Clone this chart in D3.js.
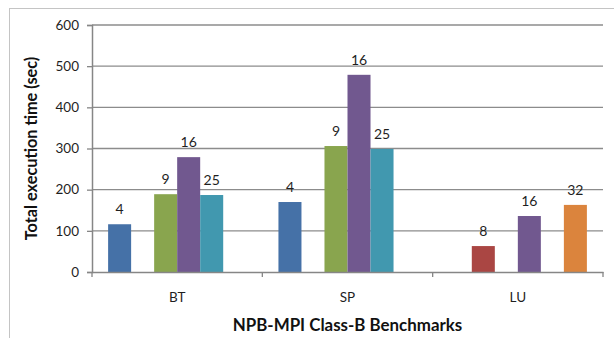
<!DOCTYPE html>
<html>
<head>
<meta charset="utf-8">
<script src="https://cdn.jsdelivr.net/npm/d3@7"></script>
<style>
  html, body { margin: 0; padding: 0; background: #fff; }
  svg { display: block; font-family: Lato, "Open Sans", sans-serif; }
</style>
</head>
<body>
<svg id="chart" width="614" height="338"></svg>
<script>
// Benchmarks and process counts
const categories = ["BT", "SP", "LU"];
const processCounts = ["4", "8", "9", "16", "25", "32"];
// Execution time (sec) per benchmark, one entry per process count (null = not run)
const timesBT = [116, null, 189, 279, 187, null];
const timesSP = [170, null, 306, 479, 299, null];
const timesLU = [null, 63, null, 136, null, 163];
const yTicks = [0, 100, 200, 300, 400, 500, 600];
const seriesColors = ["#4571A7", "#AA4643", "#89A54E", "#71588F", "#4198AF", "#DB843D"];

const rows = [timesBT, timesSP, timesLU];

const svg = d3.select("#chart");
const margin = { left: 92, right: 11, top: 25, bottom: 66 };
const W = 614, H = 338;

// outer frame
svg.append("rect")
  .attr("x", 9.5).attr("y", 8.5)
  .attr("width", 640).attr("height", 360)
  .attr("fill", "none").attr("stroke", "#c4c4c4").attr("stroke-width", 1);

const x0 = d3.scaleBand()
  .domain(categories)
  .range([margin.left, W - margin.right])
  .paddingInner(0).paddingOuter(0);

const x1 = d3.scaleBand()
  .domain(processCounts)
  .range([0, x0.bandwidth()])
  .paddingOuter(0.7).paddingInner(0);

const y = d3.scaleLinear()
  .domain([0, 600])
  .range([H - margin.bottom, margin.top]);

// gridlines
svg.append("g")
  .selectAll("line")
  .data(yTicks.filter(t => t > 0))
  .join("line")
  .attr("x1", margin.left).attr("x2", W - margin.right)
  .attr("y1", d => y(d)).attr("y2", d => y(d))
  .attr("stroke", "#8c8c8c").attr("stroke-width", 1.3);

// y axis
const yAxis = svg.append("g")
  .attr("transform", `translate(${margin.left},0)`)
  .call(d3.axisLeft(y).tickValues(yTicks).tickSize(5).tickPadding(8));
yAxis.select(".domain").attr("stroke", "#868686").attr("stroke-width", 1.5);
yAxis.selectAll(".tick line").attr("stroke", "#868686").attr("stroke-width", 1.3);
yAxis.selectAll(".tick text")
  .attr("font-size", 13.5).attr("fill", "#1f1f1f")
  .attr("font-family", "Lato, sans-serif");

// bars
const groups = svg.append("g")
  .selectAll("g")
  .data(rows.map((vals, i) => ({ cat: categories[i], vals })))
  .join("g")
  .attr("transform", d => `translate(${x0(d.cat)},0)`);

const cells = groups.selectAll("g")
  .data(d => d.vals.map((v, j) => ({ v, key: processCounts[j], color: seriesColors[j] })).filter(e => e.v !== null))
  .join("g");

cells.append("rect")
  .attr("x", d => x1(d.key))
  .attr("width", x1.bandwidth())
  .attr("y", d => y(d.v))
  .attr("height", d => y(0) - y(d.v))
  .attr("fill", d => d.color);

cells.append("text")
  .attr("x", d => x1(d.key) + x1.bandwidth() / 2)
  .attr("y", d => y(d.v) - 10)
  .attr("text-anchor", "middle")
  .attr("font-size", 14)
  .attr("fill", "#1f1f1f")
  .text(d => d.key);

// x axis
const xAxis = svg.append("g")
  .attr("transform", `translate(0,${y(0)})`)
  .call(d3.axisBottom(x0).tickSize(0).tickPadding(20));
xAxis.select(".domain").attr("stroke", "#868686").attr("stroke-width", 1.5);
xAxis.selectAll(".tick text")
  .attr("font-size", 13.5).attr("fill", "#1f1f1f")
  .attr("font-family", "Lato, sans-serif");

// category boundary ticks
svg.append("g")
  .selectAll("line")
  .data(categories.map(c => x0(c)).concat([x0(categories[categories.length - 1]) + x0.bandwidth()]))
  .join("line")
  .attr("x1", d => d).attr("x2", d => d)
  .attr("y1", y(0)).attr("y2", y(0) + 5)
  .attr("stroke", "#868686").attr("stroke-width", 1.3);

// axis titles
svg.append("text")
  .attr("transform", `translate(37,${(y(0) + y(600)) / 2}) rotate(-90)`)
  .attr("text-anchor", "middle")
  .attr("font-size", 16.3).attr("font-weight", "bold")
  .attr("fill", "#111")
  .text("Total execution time (sec)");

svg.append("text")
  .attr("x", (margin.left + W - margin.right) / 2)
  .attr("y", 331)
  .attr("text-anchor", "middle")
  .attr("font-size", 16.9).attr("font-weight", "bold")
  .attr("fill", "#111")
  .text("NPB-MPI Class-B Benchmarks");
</script>
</body>
</html>
